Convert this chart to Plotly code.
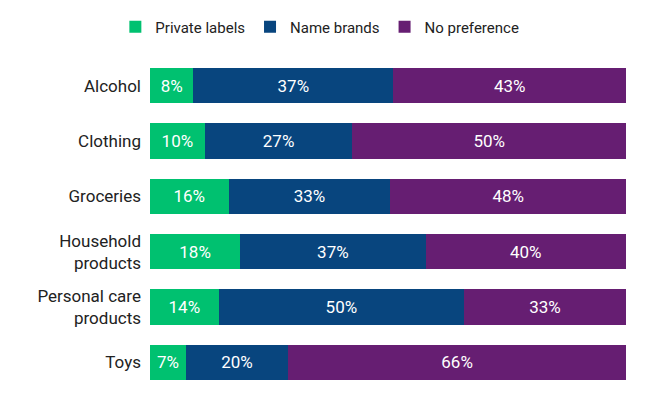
import plotly.graph_objects as go

categories = ["Alcohol", "Clothing", "Groceries", "Household<br>products", "Personal care<br>products", "Toys"]
private_labels = [8, 10, 16, 18, 14, 7]
name_brands = [37, 27, 33, 37, 50, 20]
no_preference = [43, 50, 48, 40, 33, 66]

series = [
    ("Private labels", private_labels, "#00c170"),
    ("Name brands", name_brands, "#08457e"),
    ("No preference", no_preference, "#661e72"),
]

fig = go.Figure()
for name, vals, color in series:
    fig.add_trace(go.Bar(
        y=categories, x=vals, name=name, orientation="h",
        marker=dict(color=color, line=dict(width=0)),
        text=[f"{v}%" for v in vals], textposition="inside",
        insidetextanchor="middle",
        textfont=dict(family="Roboto", size=17, color="white"),
        hoverinfo="skip",
    ))

fig.update_layout(
    width=647, height=400,
    barmode="stack", barnorm="percent", bargap=0.366,
    margin=dict(l=142, r=29, t=50, b=18),
    paper_bgcolor="white", plot_bgcolor="white",
    font=dict(family="Roboto", size=17, color="#222222"),
    showlegend=True,
    uniformtext=dict(mode="show", minsize=17),
    legend=dict(orientation="h", xref="container", yref="container",
                x=0.482, xanchor="center", y=0.9525, yanchor="middle",
                font=dict(family="Roboto", size=15, color="#222222"),
                traceorder="normal", itemwidth=30),
    xaxis=dict(visible=False, range=[0, 100], fixedrange=True),
    yaxis=dict(autorange="reversed", showgrid=False, showline=False,
               ticks="", ticklabelstandoff=8, tickfont=dict(size=17, color="#222222")),
)

fig.write_html("out.html")
